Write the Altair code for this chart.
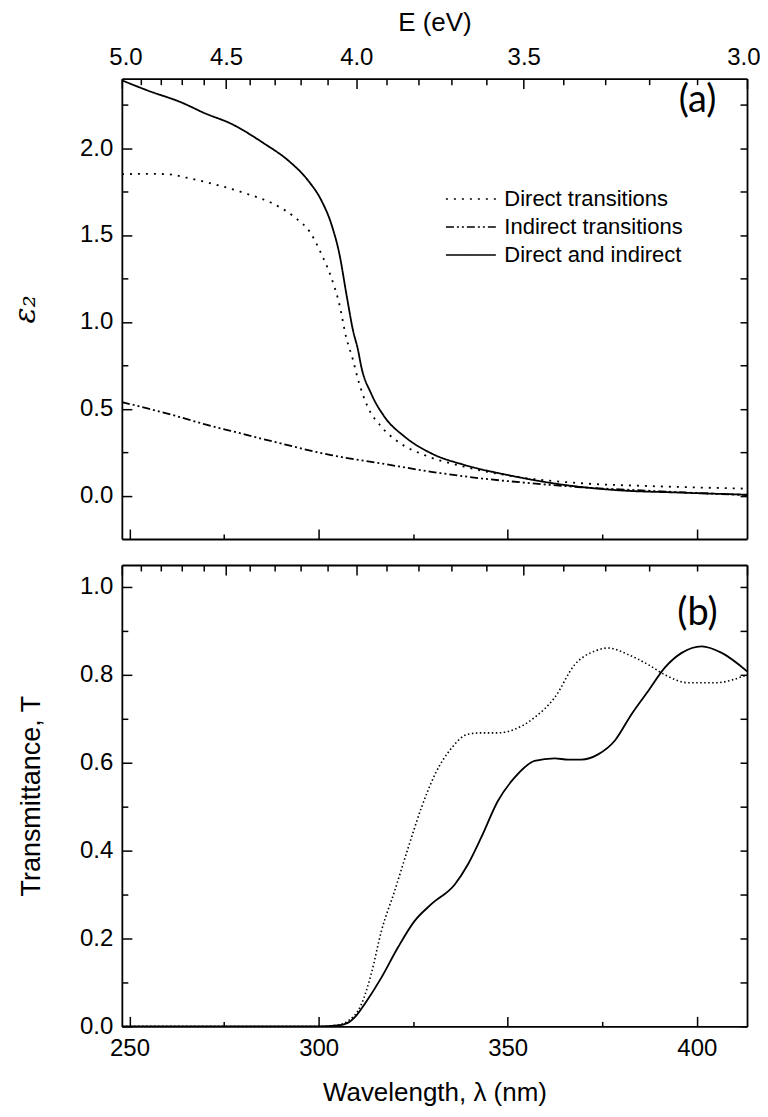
import altair as alt
import pandas as pd

EV_NM = 1239.84
X_DOMAIN = [EV_NM / 5.0, EV_NM / 3.0]

# ---------------- Panel (a): epsilon_2 ----------------
SERIES = ["Direct transitions", "Indirect transitions", "Direct and indirect"]

dir_wl = [248, 255, 260, 265, 272, 281, 288, 293.6, 298, 300.7, 303.3, 305.5,
          307.3, 309.1, 310.4, 313, 316.6, 321, 328, 338.6, 351.8, 369.5, 387, 400, 413.3]
dir_eps = [1.85, 1.852, 1.85, 1.83, 1.795, 1.737, 1.68, 1.603, 1.507, 1.392, 1.258, 1.10,
           0.91, 0.78, 0.67, 0.51, 0.396, 0.31, 0.233, 0.166, 0.11, 0.071, 0.055, 0.047, 0.04]

ind_wl = [248, 255, 262, 270, 280, 290, 303.3, 316.6, 329.8, 343, 356.3, 369.5, 387.2, 400, 413.3]
ind_eps = [0.538, 0.50, 0.46, 0.41, 0.355, 0.30, 0.233, 0.185, 0.137, 0.099, 0.071, 0.048,
           0.028, 0.015, 0.003]

tot_wl = [248, 255, 263.6, 270, 276.9, 285.7, 291.9, 297.2, 300.7, 303.3, 305.5, 307.5,
          309.1, 310.4, 311.3, 313.9, 317.4, 322.7, 329.8, 338.6, 350.1, 365.1, 378.3, 396, 413.3]
tot_eps = [2.39, 2.33, 2.264, 2.20, 2.14, 2.025, 1.93, 1.814, 1.70, 1.567, 1.39, 1.14,
           0.95, 0.84, 0.74, 0.587, 0.454, 0.34, 0.243, 0.176, 0.118, 0.061, 0.032, 0.017, 0.005]

# ---------------- Panel (b): Transmittance ----------------
tdir_wl = [248, 300, 305, 307.7, 311.3, 313.9, 316.6, 320.1, 323.7, 327.2, 330.8, 335.2,
           339.5, 343.5, 347.4, 351.8, 357.1, 362.4, 367.7, 373, 376.6, 381.9, 387.2, 391.6,
           397.8, 404.8, 413.3]
tdir_T = [0, 0, 0.003, 0.012, 0.05, 0.119, 0.217, 0.308, 0.407, 0.498, 0.574, 0.634,
          0.665, 0.668, 0.668, 0.676, 0.703, 0.748, 0.823, 0.854, 0.861, 0.846, 0.823, 0.80,
          0.782, 0.782, 0.80]

ttot_wl = [248, 300, 305, 307.7, 310, 312.1, 316.6, 321, 325.4, 329.8, 336, 339.5, 343,
           347.4, 351.8, 357.1, 362.4, 366, 369.5, 373.9, 378.3, 382.7, 387.2, 391.6, 396,
           401.3, 406.6, 413.3]
ttot_T = [0, 0, 0.002, 0.008, 0.025, 0.05, 0.111, 0.18, 0.24, 0.278, 0.323, 0.369, 0.43,
          0.513, 0.566, 0.604, 0.61, 0.607, 0.607, 0.619, 0.65, 0.71, 0.764, 0.817, 0.85,
          0.865, 0.85, 0.808]

# tick positions
e_ticks = [round(5.0 - 0.1 * i, 1) for i in range(21)]
e_tick_wl = [EV_NM / e for e in e_ticks]
wl_ticks = [250, 275, 300, 325, 350, 375, 400]
eps_ticks = [round(0.25 * i, 2) for i in range(10)]
T_ticks = [round(0.1 * i, 1) for i in range(11)]

df_a = pd.concat([
    pd.DataFrame({"wl": dir_wl, "v": dir_eps, "series": SERIES[0]}),
    pd.DataFrame({"wl": ind_wl, "v": ind_eps, "series": SERIES[1]}),
    pd.DataFrame({"wl": tot_wl, "v": tot_eps, "series": SERIES[2]}),
], ignore_index=True)
df_bd = pd.DataFrame({"wl": tdir_wl, "T": tdir_T})
df_bt = pd.DataFrame({"wl": ttot_wl, "T": ttot_T})

FONT = "Liberation Sans"
LAB = 24
TIT = 26

E_MAJ = f"abs(2*{EV_NM}/datum.value - round(2*{EV_NM}/datum.value)) < 0.01"
WL_MAJ = "datum.value % 50 == 0"
EPS_MAJ = "abs(2*datum.value - round(2*datum.value)) < 0.001"
T_MAJ = "abs(5*datum.value - round(5*datum.value)) < 0.001"

COMMON = dict(grid=False, domain=True, domainColor="black", domainWidth=1.8,
              labelOverlap=False, labelFlush=False,
              tickColor="black", tickWidth=1.5, labelColor="black", titleColor="black",
              labelFont=FONT, titleFont=FONT, labelFontSize=LAB, titleFontSize=TIT,
              titleFontWeight="normal")


def make_axis(orient, values, size_expr, labels, label_expr="", title=None,
              pad=4, tpad=4, **extra):
    kw = dict(COMMON)
    kw.update(orient=orient, values=values, tickSize=alt.ExprRef(size_expr),
              labels=labels, title=title)
    if labels:
        kw.update(labelExpr=label_expr, labelPadding=pad, titlePadding=tpad)
    kw.update(extra)
    return alt.Axis(**kw)


top_a = make_axis("top", e_tick_wl, f"({E_MAJ}) ? -10 : -6", True,
                  f"({E_MAJ}) ? format({EV_NM}/datum.value, '.1f') : ''",
                  title="E (eV)", pad=19, tpad=6,
                  labelFlush=True, labelFlushOffset=13)
bottom_a = make_axis("bottom", wl_ticks, f"({WL_MAJ}) ? -10 : -5", False)
left_a = make_axis("left", eps_ticks, f"({EPS_MAJ}) ? -10 : -6", True,
                   f"({EPS_MAJ}) ? format(datum.value, '.1f') : ''",
                   title="ε₂", pad=19, tpad=39,
                   titleFont="DejaVu Serif", titleFontStyle="italic", titleFontSize=30)
right_a = make_axis("right", eps_ticks, "-7", False)

top_b = make_axis("top", e_tick_wl, f"({E_MAJ}) ? -10 : -6", False)
bottom_b = make_axis("bottom", wl_ticks, f"({WL_MAJ}) ? -10 : -5", True,
                     f"({WL_MAJ}) ? format(datum.value, 'd') : ''",
                     title="Wavelength, λ (nm)", pad=20, tpad=14)
left_b = make_axis("left", T_ticks, f"({T_MAJ}) ? -10 : -6", True,
                   f"({T_MAJ}) ? format(datum.value, '.1f') : ''",
                   title="Transmittance, T", pad=19, tpad=34, titleFontSize=27)
right_b = make_axis("right", T_ticks, "-7", False)

xscale = alt.Scale(domain=X_DOMAIN, nice=False, zero=False)
ya = alt.Scale(domain=[-0.25, 2.4], nice=False, zero=False)
yb = alt.Scale(domain=[0, 1.05], nice=False, zero=False)

W, HA, HB = 626, 461, 462

lines_a = alt.Chart(df_a).mark_line(color="black", strokeWidth=1.8,
                                    interpolate="monotone", clip=True).encode(
    x=alt.X("wl:Q", scale=xscale, axis=bottom_a),
    y=alt.Y("v:Q", scale=ya, axis=left_a),
    strokeDash=alt.StrokeDash(
        "series:N",
        scale=alt.Scale(domain=SERIES, range=[[2, 6], [8, 3, 2, 3, 2, 3], [1, 0]]),
        legend=alt.Legend(orient="none", legendX=336, legendY=107, title=None,
                          symbolType="M-2,0H2", symbolSize=625, symbolStrokeWidth=1.5,
                          symbolStrokeColor="black", labelFont=FONT, labelFontSize=22,
                          labelColor="black", labelOffset=20, rowPadding=3, padding=0,
                          labelLimit=400),
    ),
)

label_a = alt.Chart(pd.DataFrame({"wl": [400.2], "v": [2.27], "t": ["(a)"]})).mark_text(
    font="Lato", fontSize=38, color="black").encode(
    x=alt.X("wl:Q", scale=xscale, axis=top_a),
    y=alt.Y("v:Q", scale=ya, axis=right_a),
    text="t:N",
)

panel_a = alt.layer(lines_a, label_a).resolve_axis(
    x="independent", y="independent").properties(width=W, height=HA)

dot_b = alt.Chart(df_bd).mark_line(color="black", strokeWidth=1.6, strokeDash=[1.5, 2.5],
                                   interpolate="monotone", clip=True).encode(
    x=alt.X("wl:Q", scale=xscale, axis=bottom_b),
    y=alt.Y("T:Q", scale=yb, axis=left_b),
)
sol_b = alt.Chart(df_bt).mark_line(color="black", strokeWidth=1.8,
                                   interpolate="monotone", clip=True).encode(
    x=alt.X("wl:Q", scale=xscale, axis=top_b),
    y=alt.Y("T:Q", scale=yb, axis=right_b),
)
label_b = alt.Chart(pd.DataFrame({"wl": [400.2], "T": [0.939], "t": ["(b)"]})).mark_text(
    font="Lato", fontSize=38, color="black").encode(
    x=alt.X("wl:Q", scale=xscale, axis=None),
    y=alt.Y("T:Q", scale=yb, axis=None),
    text="t:N",
)

panel_b = alt.layer(dot_b, sol_b, label_b).resolve_axis(
    x="independent", y="independent").properties(width=W, height=HB)

chart = alt.vconcat(panel_a, panel_b, spacing=24).properties(
    padding={"left": 2, "top": 1, "right": 0, "bottom": 0}
).configure(font=FONT).configure_view(strokeWidth=0)

chart.save("out.html", embed_options={"renderer": "svg", "actions": False})
